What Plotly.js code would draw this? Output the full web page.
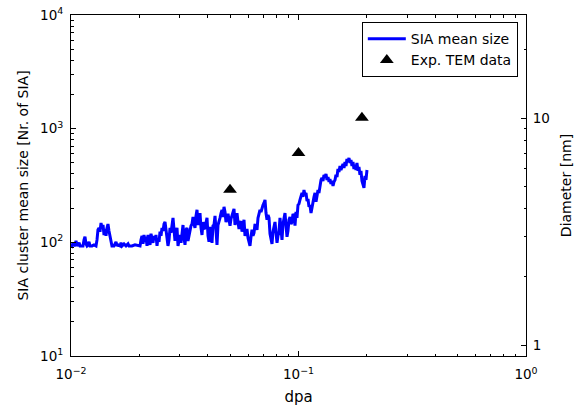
<!DOCTYPE html>
<html>
<head>
<meta charset="utf-8">
<script src="https://cdn.plot.ly/plotly-3.0.1.min.js"></script>
<style>html,body{margin:0;padding:0;background:#fff;}#chart{width:580px;height:407px;}</style>
</head>
<body>
<div id="chart"></div>
<script>
// SIA mean cluster size vs dose (simulation)
const dpa = [
0.01000,0.01010,0.01021,0.01031,0.01041,0.01052,0.01063,0.01074,0.01085,0.01096,0.01107,0.01129,0.01141,0.01152,0.01164,0.01176,0.01188,0.01200,0.01212,0.01237,0.01262,0.01288,
0.01301,0.01314,0.01328,0.01341,0.01355,0.01369,0.01383,0.01397,0.01411,0.01425,0.01440,0.01454,0.01469,0.01484,0.01499,0.01514,
0.01545,0.01577,0.01593,0.01609,0.01642,0.01659,0.01676,0.01710,0.01745,0.01781,0.01799,0.01854,0.01911,0.01970,0.02011,
0.02031,0.02052,0.02073,0.02094,0.02115,0.02137,0.02158,0.02180,
0.02202,0.02225,0.02247,0.02270,0.02293,0.02317,0.02340,0.02364,0.02388,0.02413,0.02437,0.02462,0.02487,0.02512,0.02538,0.02564,0.02590,0.02616,0.02643,0.02669,0.02697,0.02724,0.02752,0.02780,0.02808,0.02837,0.02865,0.02895,0.02924,0.02954,0.02984,0.03014,0.03045,0.03076,0.03107,0.03139,0.03171,0.03203,0.03236,0.03268,0.03302,0.03335,0.03369,0.03403,0.03438,0.03473,0.03508,0.03544,0.03580,0.03617,0.03653,0.03690,0.03728,0.03766,0.03804,0.03843,0.03882,0.03922,0.03961,0.04002,0.04042,0.04084,0.04125,0.04167,0.04209,0.04252,0.04296,0.04339,0.04383,0.04428,0.04473,0.04519,0.04565,
0.04611,0.04658,0.04705,0.04753,0.04801,0.04850,0.04900,0.04949,0.05000,0.05051,0.05102,0.05154,0.05206,0.05259,0.05313,0.05367,0.05421,0.05476,0.05532,0.05588,0.05645,0.05703,0.05761,0.05819,0.05878,0.05938,0.05999,0.06060,0.06121,0.06184,0.06246,0.06310,0.06374,0.06439,0.06504,0.06571,0.06637,0.06705,0.06773,0.06842,0.06912,0.06982,0.07053,0.07125,0.07197,0.07270,0.07344,0.07419,0.07494,0.07571,0.07648,0.07725,0.07804,0.07883,0.07964,0.08045,0.08126,0.08209,0.08292,0.08377,0.08462,0.08548,0.08635,0.08723,0.08812,0.08901,0.08992,0.09083,0.09176,0.09269,0.09363,0.09458,0.09555,0.09652,0.09750,0.09849,0.09949,0.1005,0.1015,
0.1026,0.1036,0.1047,0.1057,0.1068,0.1079,0.1090,0.1101,0.1112,0.1123,0.1135,0.1146,0.1158,0.1170,0.1182,0.1194,0.1206,0.1218,0.1230,0.1243,0.1256,0.1268,0.1281,0.1294,0.1307,0.1321,0.1334,0.1348,0.1362,0.1375,0.1389,0.1403,0.1418,0.1432,0.1447,0.1461,0.1476,0.1491,0.1506,0.1522,0.1537,0.1553,0.1569,0.1585,0.1601,0.1617,0.1633,0.1650,0.1667,0.1684,0.1701,0.1718,0.1736,0.1753,0.1771,0.1789,0.1807,0.1826,0.1844,0.1863,0.1882,0.1901,0.1921,0.1940,0.1960,0.1980,0.2000
];
const siaSize = [
95,93,99,93,95,103,93,95,99,93,93,93,105,112,97,93,95,101,93,93,95,93,
105,129,134,124,148,134,142,116,131,114,134,145,126,114,105,93,
93,101,93,95,93,99,93,97,93,97,93,93,95,93,93,
105,114,97,116,101,112,93,116,
105,95,119,109,99,114,105,116,93,109,101,124,114,134,126,145,151,129,114,93,105,134,121,140,164,129,103,121,134,93,109,116,99,124,142,109,95,129,134,103,116,126,140,145,167,145,134,171,193,142,161,181,134,116,151,131,134,158,164,114,101,137,114,99,140,142,171,129,95,142,151,164,181,
193,167,205,185,151,161,178,158,140,161,171,185,197,142,164,181,151,131,145,154,124,140,158,114,124,131,109,101,93,112,129,114,121,145,134,129,164,181,193,185,205,213,222,236,181,158,174,164,119,109,97,124,140,151,121,99,114,124,164,134,105,145,171,181,140,112,126,158,167,145,151,178,171,140,185,164,213,218,236,
256,272,251,289,261,272,231,241,205,213,181,205,236,251,272,227,256,289,272,326,354,369,347,392,376,400,354,376,340,361,326,347,313,340,354,392,376,442,416,470,433,460,489,451,510,470,541,510,552,499,531,470,510,442,480,433,499,425,460,392,425,347,313,301,384,354,433
];

// Experimental TEM data
const temDpa = [0.05, 0.1, 0.19];
const temSize = [290, 610, 1250];

// Tick labels
const xTickVals = [0.01, 0.1, 1];
const xTickText = ['10<sup>\u22122</sup>', '10<sup>\u22121</sup>', '10<sup>0</sup>'];
const yTickVals = [10, 100, 1000, 10000];
const yTickText = ['10<sup>1</sup>', '10<sup>2</sup>', '10<sup>3</sup>', '10<sup>4</sup>'];
const y2TickVals = [1, 10];
const y2TickText = ['1', '10'];

const FONT = 'DejaVu Sans, sans-serif';
const TICK_SIZE = 13.5;
const TITLE_SIZE = 14;

const traces = [
  {
    x: dpa, y: siaSize, type: 'scatter', mode: 'lines',
    name: 'SIA mean size',
    line: {color: '#0000ff', width: 3},
    xaxis: 'x', yaxis: 'y'
  },
  {
    x: temDpa, y: temSize, type: 'scatter', mode: 'markers',
    name: 'Exp. TEM data',
    marker: {symbol: 'triangle-up', size: 12, color: '#000000'},
    xaxis: 'x', yaxis: 'y'
  },
  {
    x: [], y: [], type: 'scatter', mode: 'lines', showlegend: false,
    xaxis: 'x', yaxis: 'y2', hoverinfo: 'skip'
  }
];

const minorTicks = {ticks: 'inside', ticklen: 2.5, tickcolor: '#000', tickwidth: 1, dtick: 'D1', showgrid: false};

const layout = {
  width: 580, height: 407,
  margin: {l: 71, r: 54, t: 15, b: 51, pad: 0},
  paper_bgcolor: '#fff', plot_bgcolor: '#fff',
  font: {family: FONT, size: TITLE_SIZE, color: '#000'},
  showlegend: true,
  legend: {
    x: 0.982, y: 0.979, xanchor: 'right', yanchor: 'top',
    bgcolor: '#fff', bordercolor: '#000', borderwidth: 1,
    font: {family: FONT, size: 14, color: '#000'},
    itemwidth: 38, tracegroupgap: 0
  },
  xaxis: {
    type: 'log', range: [-2, 0],
    tickmode: 'array', tickvals: xTickVals, ticktext: xTickText,
    ticks: 'inside', ticklen: 5, tickwidth: 1, tickcolor: '#000',
    ticklabelstandoff: 6,
    showline: true, linecolor: '#000', linewidth: 1, mirror: 'ticks',
    showgrid: false, zeroline: false,
    tickfont: {family: FONT, size: TICK_SIZE, color: '#000'},
    minor: minorTicks,
    title: {text: 'dpa', font: {family: FONT, size: 15, color: '#000'}, standoff: 10}
  },
  yaxis: {
    type: 'log', range: [1, 4],
    tickmode: 'array', tickvals: yTickVals, ticktext: yTickText,
    ticks: 'inside', ticklen: 5, tickwidth: 1, tickcolor: '#000',
    ticklabelstandoff: 4,
    showline: true, linecolor: '#000', linewidth: 1, mirror: false,
    showgrid: false, zeroline: false,
    tickfont: {family: FONT, size: TICK_SIZE, color: '#000'},
    minor: minorTicks,
    title: {text: 'SIA cluster mean size [Nr. of SIA]', font: {family: FONT, size: TITLE_SIZE, color: '#000'}, standoff: 8}
  },
  yaxis2: {
    type: 'log', range: [-0.0466, 1.4534], overlaying: 'y', side: 'right',
    tickmode: 'array', tickvals: y2TickVals, ticktext: y2TickText,
    ticks: 'inside', ticklen: 5, tickwidth: 1, tickcolor: '#000',
    ticklabelstandoff: 3,
    showline: true, linecolor: '#000', linewidth: 1,
    showgrid: false, zeroline: false,
    tickfont: {family: FONT, size: TICK_SIZE, color: '#000'},
    minor: minorTicks,
    title: {text: 'Diameter [nm]', font: {family: FONT, size: TITLE_SIZE, color: '#000'}, standoff: 12}
  }
};

Plotly.newPlot('chart', traces, layout, {displayModeBar: false, staticPlot: true});
</script>
</body>
</html>
